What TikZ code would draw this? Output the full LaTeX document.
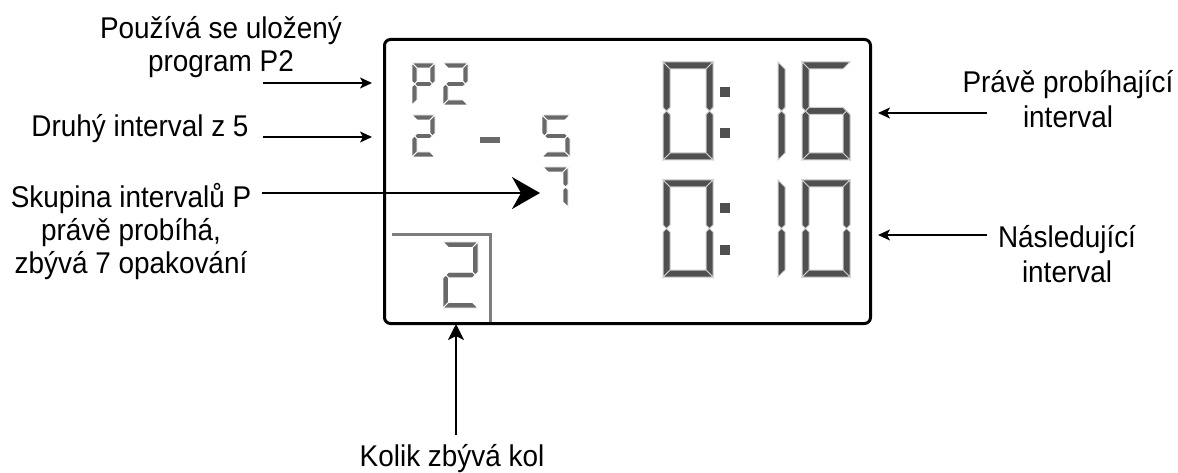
\documentclass[tikz,border=0pt]{standalone}
\usepackage{fontspec}
\setmainfont{Liberation Sans}[FakeStretch=0.93]
\usetikzlibrary{arrows.meta}
\definecolor{segdark}{RGB}{80,80,80}
\definecolor{seglight}{RGB}{205,205,205}
\definecolor{segsmall}{RGB}{105,105,105}
\definecolor{framegray}{RGB}{125,125,125}
\tikzset{
 lbl/.style={font=\fontsize{30}{33}\selectfont, align=center, anchor=base, inner sep=0pt},
 lblr/.style={font=\fontsize{30}{35}\selectfont, align=center, anchor=base, inner sep=0pt},
 thinarrow/.style={line width=1.3pt, -{Stealth[length=12pt,width=11pt,inset=3pt]}},
 bigarrow/.style={line width=2pt, -{Stealth[length=28pt,width=32pt,inset=9pt]}},
 uparrow/.style={line width=1.3pt, -{Stealth[length=16pt,width=16pt,inset=4pt]}},
 lcdbox/.style={draw=black, line width=3pt, rounded corners=6pt},
 bigseg/.style={fill=segdark, draw=seglight, line width=1pt},
 smallseg/.style={fill=segsmall, draw=white, line width=0.8pt},
}
\newcommand\dsega{\path[curseg] (0,0) -- (\W,0) -- ({\W-\T},\T) -- (\T,\T) -- cycle;}
\newcommand\dsegb{\path[curseg] (\W,0) -- (\W,{\M-\Th}) -- ({\W-\Th},\M) -- ({\W-\T},{\M-\Th}) -- ({\W-\T},\T) -- cycle;}
\newcommand\dsegc{\path[curseg] (\W,\H) -- (\W,{\M+\Th}) -- ({\W-\Th},\M) -- ({\W-\T},{\M+\Th}) -- ({\W-\T},{\H-\T}) -- cycle;}
\newcommand\dsegd{\path[curseg] (0,\H) -- (\W,\H) -- ({\W-\T},{\H-\T}) -- (\T,{\H-\T}) -- cycle;}
\newcommand\dsege{\path[curseg] (0,\H) -- (0,{\M+\Th}) -- (\Th,\M) -- (\T,{\M+\Th}) -- (\T,{\H-\T}) -- cycle;}
\newcommand\dsegf{\path[curseg] (0,0) -- (0,{\M-\Th}) -- (\Th,\M) -- (\T,{\M-\Th}) -- (\T,\T) -- cycle;}
\newcommand\dsegg{\path[curseg] (\Th,\M) -- (\T,{\M-\Th}) -- ({\W-\T},{\M-\Th}) -- ({\W-\Th},\M) -- ({\W-\T},{\M+\Th}) -- (\T,{\M+\Th}) -- cycle;}
\newcommand\sevenseg[7]{%
 \begin{scope}[shift={(#2,#3)}, curseg/.style={#1}]
 \def\W{#4}\def\H{#5}\def\T{#6}%
 \pgfmathsetmacro\M{#5/2}\pgfmathsetmacro\Th{#6/2}%
 \foreach \s in {#7}{\csname dseg\s\endcsname}
 \end{scope}}
\begin{document}
\begin{tikzpicture}[x=1pt,y=-1pt]
\useasboundingbox (0,0) rectangle (1178,473);
\fill[white] (0,0) rectangle (1178,473);

% LCD frame
\node[lcdbox, minimum width=486pt, minimum height=284pt, anchor=north west, inner sep=0pt] (lcd) at (383,38) {};
\draw[framegray, line width=3pt] (392,235) -- (490,235) -- (490,322);

% small digits
\sevenseg{smallseg}{412}{63}{23}{42}{5}{a,b,f,g,e}
\sevenseg{smallseg}{443}{63}{25}{42}{5}{a,b,g,e,d}
\sevenseg{smallseg}{412}{115}{23}{42}{5}{a,b,g,e,d}
\fill[segsmall] (480,137) rectangle (500,143);
\sevenseg{smallseg}{542}{115}{28}{42}{5}{a,f,g,c,d}
\sevenseg{smallseg}{543}{167}{25}{40}{5}{a,b,c}
\sevenseg{smallseg}{443}{242}{35}{66}{5.5}{a,b,g,e,d}

% big digits, top row 0:16
\sevenseg{bigseg}{663}{62}{50}{98}{7}{a,b,c,d,e,f}
\fill[segdark] (720,87) rectangle (730,97);
\fill[segdark] (720,128) rectangle (730,138);
\sevenseg{bigseg}{778}{62}{7}{98}{7}{e,f}
\sevenseg{bigseg}{802}{62}{48}{98}{7}{a,c,d,e,f,g}
% bottom row 0:10
\sevenseg{bigseg}{663}{180}{50}{97}{7}{a,b,c,d,e,f}
\fill[segdark] (720,203) rectangle (730,213);
\fill[segdark] (720,245) rectangle (730,255);
\sevenseg{bigseg}{778}{180}{7}{97}{7}{e,f}
\sevenseg{bigseg}{802}{180}{48}{97}{7}{a,b,c,d,e,f}

% labels (anchor base = baseline of last line)
\node[lbl] (used) at (221,72) {Používá se uložený\\program P2};
\node[lbl] (second) at (140,137) {Druhý interval z 5};
\node[lbl] (group) at (131,273) {Skupina intervalů P\\právě probíhá,\\zbývá 7 opakování};
\node[lblr] (current) at (1068,128) {Právě probíhající\\interval};
\node[lblr] (next) at (1067,282) {Následující\\interval};
\node[lbl] (laps) at (452,466) {Kolik zbývá kol};

% connectors
\coordinate (s1) at (263,83);  \coordinate (e1) at (372,83);
\coordinate (s2) at (263,137); \coordinate (e2) at (372,137);
\coordinate (s3) at (262,193); \coordinate (e3) at (540,193);
\coordinate (s4) at (987,113); \coordinate (e4) at (878,113);
\coordinate (s5) at (987,235); \coordinate (e5) at (878,235);
\coordinate (s6) at (456,435); \coordinate (e6) at (456,324);
\draw[thinarrow] (s1) -- (e1);
\draw[thinarrow] (s2) -- (e2);
\draw[bigarrow] (s3) -- (e3);
\draw[thinarrow] (s4) -- (e4);
\draw[thinarrow] (s5) -- (e5);
\draw[uparrow] (s6) -- (e6);
\end{tikzpicture}
\end{document}
